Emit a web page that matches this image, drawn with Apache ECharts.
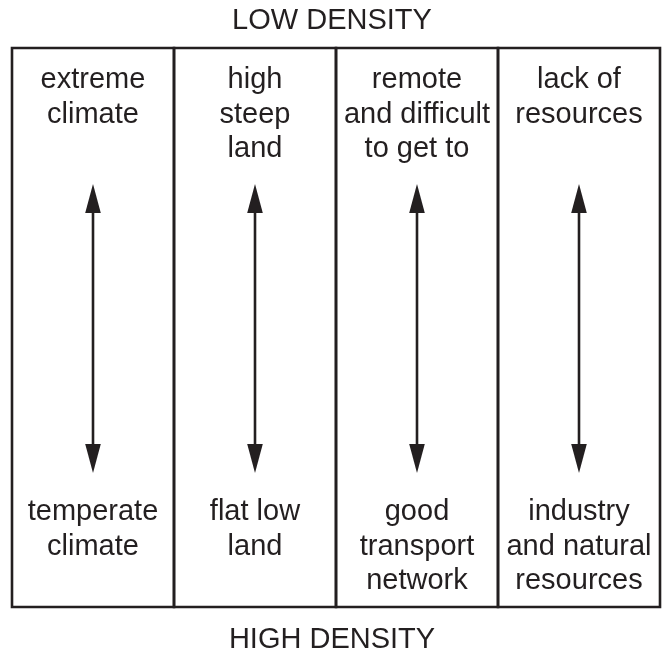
<!DOCTYPE html>
<html>
<head>
<meta charset="utf-8">
<script src="https://cdn.jsdelivr.net/npm/echarts@6/dist/echarts.min.js"></script>
<style>html,body{margin:0;padding:0;background:#fff}#c{width:664px;height:657px}</style>
</head>
<body>
<div id="c"></div>
<script>
const topTitle = 'LOW DENSITY';
const bottomTitle = 'HIGH DENSITY';
const columnIndex = [0, 1, 2, 3];
const topLabels = ['extreme\nclimate', 'high\nsteep\nland', 'remote\nand difficult\nto get to', 'lack of\nresources'];
const bottomLabels = ['temperate\nclimate', 'flat low\nland', 'good\ntransport\nnetwork', 'industry\nand natural\nresources'];

const INK = '#231f20';
const FONT = 'Liberation Sans, Arial, Helvetica, sans-serif';
const FS = 29;
const H = 559;            // y-axis extent (box height units)
const ARROW_TOP = 136, ARROW_BOTTOM = 425, HEAD_LEN = 29, HEAD_HALF = 7.8;
const TEXT_TOP = 15, TEXT_BOTTOM = 447;

const chart = echarts.init(document.getElementById('c'), null, {renderer: 'canvas'});
chart.setOption({
  animation: false,
  backgroundColor: '#fff',
  title: [
    {text: topTitle, left: 'center', top: 1, textStyle: {fontFamily: FONT, fontSize: FS, fontWeight: 'normal', color: INK}},
    {text: bottomTitle, left: 'center', top: 620, textStyle: {fontFamily: FONT, fontSize: FS, fontWeight: 'normal', color: INK}}
  ],
  grid: {left: 12, top: 48, width: 648, height: H},
  xAxis: {type: 'value', min: 0, max: 4, show: false},
  yAxis: {type: 'value', min: 0, max: H, inverse: true, show: false},
  series: [{
    type: 'custom',
    data: columnIndex.map(i => [i]),
    renderItem: function (params, api) {
      const i = api.value(0);
      const tl = api.coord([i, 0]);
      const br = api.coord([i + 1, H]);
      const cx = api.coord([i + 0.5, 0])[0];
      const yTop = api.coord([i + 0.5, ARROW_TOP])[1];
      const yBot = api.coord([i + 0.5, ARROW_BOTTOM])[1];
      const tTop = api.coord([i + 0.5, TEXT_TOP])[1];
      const tBot = api.coord([i + 0.5, TEXT_BOTTOM])[1];
      return {
        type: 'group',
        children: [
          {type: 'rect', shape: {x: tl[0], y: tl[1], width: br[0] - tl[0], height: br[1] - tl[1]},
           style: {fill: 'none', stroke: INK, lineWidth: 2.6}},
          {type: 'line', shape: {x1: cx, y1: yTop + HEAD_LEN - 2, x2: cx, y2: yBot - HEAD_LEN + 2},
           style: {stroke: INK, lineWidth: 2.6}},
          {type: 'polygon', shape: {points: [[cx, yTop], [cx - HEAD_HALF, yTop + HEAD_LEN], [cx + HEAD_HALF, yTop + HEAD_LEN]]},
           style: {fill: INK}},
          {type: 'polygon', shape: {points: [[cx, yBot], [cx - HEAD_HALF, yBot - HEAD_LEN], [cx + HEAD_HALF, yBot - HEAD_LEN]]},
           style: {fill: INK}},
          {type: 'text', style: {text: topLabels[i], x: cx, y: tTop, align: 'center', verticalAlign: 'top',
            fontFamily: FONT, fontSize: FS, lineHeight: 34.5, fill: INK}},
          {type: 'text', style: {text: bottomLabels[i], x: cx, y: tBot, align: 'center', verticalAlign: 'top',
            fontFamily: FONT, fontSize: FS, lineHeight: 34.5, fill: INK}}
        ]
      };
    }
  }]
});
</script>
</body>
</html>
